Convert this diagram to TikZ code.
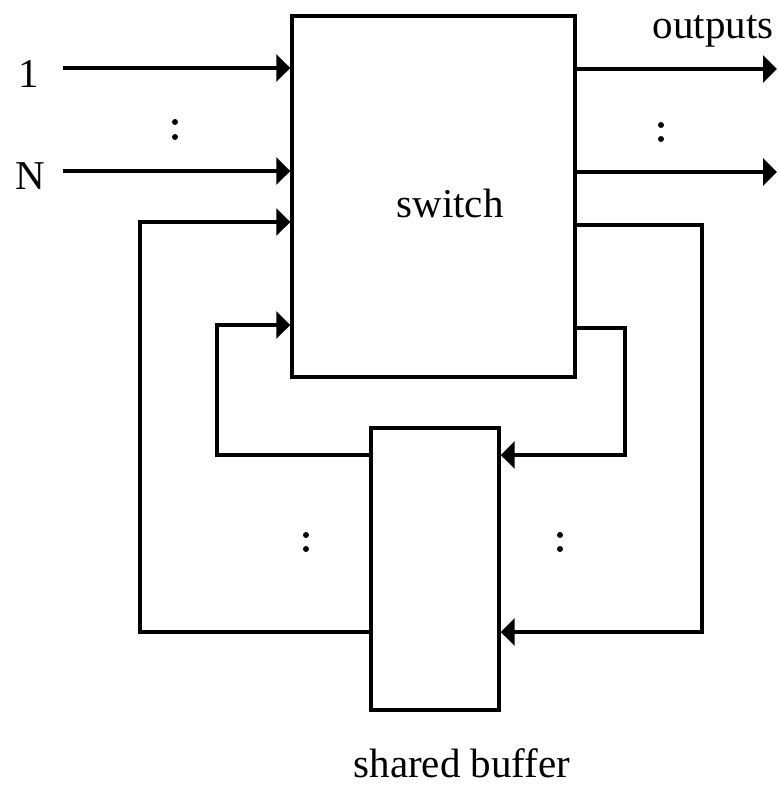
\documentclass[tikz,border=0pt]{standalone}
\usepackage{fontspec}
\setmainfont{Liberation Serif}
\usetikzlibrary{arrows.meta}
\begin{document}
\begin{tikzpicture}[x=1pt,y=-1pt,
  line width=3.4pt,
  arr/.style={-{Triangle[length=14pt,width=27pt]}},
  boxnode/.style={draw,line width=3.4pt,inner sep=0pt,rectangle},
  lbl/.style={font=\fontsize{41}{41}\selectfont,inner sep=0pt,anchor=base,text depth=0pt},
  dotc/.style={circle,fill=black,inner sep=0pt,minimum size=6pt}]
\useasboundingbox (0,0) rectangle (777,785);
% boxes
\node[boxnode,minimum width=283pt,minimum height=361pt] (sw) at (433.5,196.5) {};
\node[boxnode,minimum width=128pt,minimum height=282pt] (buf) at (435,569) {};
% labels
\node[lbl] (tsw) at (450,217) {switch};
\node[lbl] (tbuf) at (462,777) {shared buffer};
\node[lbl] (tout) at (713,38) {outputs};
\node[lbl] (t1) at (29,87) {1};
\node[lbl] (tN) at (30,189) {N};
% input lines
\coordinate (i1) at (63,68);
\coordinate (iN) at (63,171);
\draw[arr] (i1) -- (i1 -| sw.west);
\draw[arr] (iN) -- (iN -| sw.west);
% output lines
\coordinate (o1) at (777,69);
\coordinate (oN) at (777,172);
\draw[arr] (sw.east |- o1) -- (o1);
\draw[arr] (sw.east |- oN) -- (oN);
% feedback right side (switch -> buffer)
\draw[arr] (sw.east |- 0,225) -- (702,225) -- (702,632) -- (buf.east |- 0,632);
\draw[arr] (sw.east |- 0,328) -- (625,328) -- (625,455) -- (buf.east |- 0,455);
% feedback left side (buffer -> switch)
\draw[arr] (buf.west |- 0,632) -- (140,632) -- (140,222) -- (sw.west |- 0,222);
\draw[arr] (buf.west |- 0,455) -- (217,455) -- (217,325) -- (sw.west |- 0,325);
% dots
\node[dotc] (d1a) at (175,122) {};
\node[dotc] (d1b) at (175,137) {};
\node[dotc] (d2a) at (661,125) {};
\node[dotc] (d2b) at (661,139) {};
\node[dotc] (d3a) at (306,535) {};
\node[dotc] (d3b) at (306,549) {};
\node[dotc] (d4a) at (560,535) {};
\node[dotc] (d4b) at (560,549) {};
\end{tikzpicture}
\end{document}
